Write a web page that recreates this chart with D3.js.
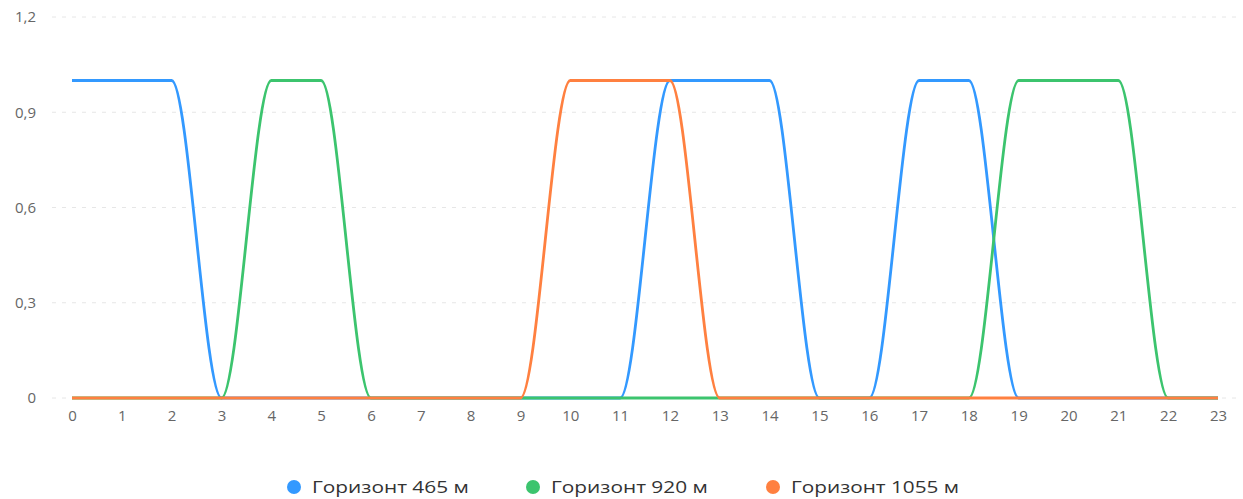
<!DOCTYPE html>
<html>
<head>
<meta charset="utf-8">
<script src="https://cdn.jsdelivr.net/npm/d3@7"></script>
<style>
  body { margin: 0; background: #fff; }
  svg text { font-family: "Open Sans", "Noto Sans", sans-serif; }
</style>
</head>
<body>
<div id="chart"></div>
<script>
const hours = d3.range(0, 24);
const yTicks = [0, 0.3, 0.6, 0.9, 1.2];

const seriesNames = ["Горизонт 465 м", "Горизонт 920 м", "Горизонт 1055 м"];
const seriesColors = ["#3399ff", "#3cc46e", "#ff8040"];

const h465  = [1,1,1,0,0,0,0,0,0,0,0,0,1,1,1,0,0,1,1,0,0,0,0,0];
const h920  = [0,0,0,0,1,1,0,0,0,0,0,0,0,0,0,0,0,0,0,1,1,1,0,0];
const h1055 = [0,0,0,0,0,0,0,0,0,0,1,1,1,0,0,0,0,0,0,0,0,0,0,0];
const seriesValues = [h465, h920, h1055];

const width = 1243, height = 499;
const svg = d3.select("#chart").append("svg")
  .attr("width", width)
  .attr("height", height);

const x = d3.scaleLinear().domain([0, 23]).range([72, 1218]);
const y = d3.scaleLinear().domain([0, 1.2]).range([398, 17]);
const fmt = d => String(d).replace(".", ",");

// grid
svg.append("g")
  .selectAll("line")
  .data(yTicks)
  .join("line")
    .attr("x1", 52)
    .attr("x2", 1240)
    .attr("y1", d => y(d))
    .attr("y2", d => y(d))
    .attr("stroke", "#e6e6e6")
    .attr("stroke-width", 1)
    .attr("stroke-dasharray", "4,6");

// y labels
svg.append("g")
  .selectAll("text")
  .data(yTicks)
  .join("text")
    .attr("x", 36)
    .attr("y", d => y(d))
    .attr("dy", "0.35em")
    .attr("text-anchor", "end")
    .attr("fill", "#666")
    .attr("font-size", 15)
    .text(fmt);

// x axis labels
const xAxis = d3.axisBottom(x).tickValues(hours).tickSize(0).tickPadding(12);
const gx = svg.append("g")
  .attr("transform", `translate(0,${y(0)})`)
  .call(xAxis);
gx.select(".domain").remove();
gx.selectAll("text")
  .attr("fill", "#666")
  .attr("font-size", 15)
  .style("font-family", "'Open Sans', 'Noto Sans', sans-serif");

// lines
const line = d3.line()
  .x((d, i) => x(hours[i]))
  .y(d => y(d))
  .curve(d3.curveMonotoneX);

svg.append("g")
  .selectAll("path")
  .data(seriesValues)
  .join("path")
    .attr("fill", "none")
    .attr("stroke", (d, i) => seriesColors[i])
    .attr("stroke-width", 2.8)
    .attr("stroke-linejoin", "round")
    .attr("d", line);

// legend
const legendX = [294, 533, 773];
const legend = svg.append("g")
  .selectAll("g")
  .data(seriesNames)
  .join("g")
    .attr("transform", (d, i) => `translate(${legendX[i]},487)`);

legend.append("circle")
  .attr("r", 7)
  .attr("fill", (d, i) => seriesColors[i]);

legend.append("text")
  .attr("x", 18)
  .attr("dy", "0.35em")
  .attr("fill", "#333")
  .attr("font-size", 17)
  .attr("textLength", d => d.length * 11.2)
  .attr("lengthAdjust", "spacingAndGlyphs")
  .text(d => d);
</script>
</body>
</html>
